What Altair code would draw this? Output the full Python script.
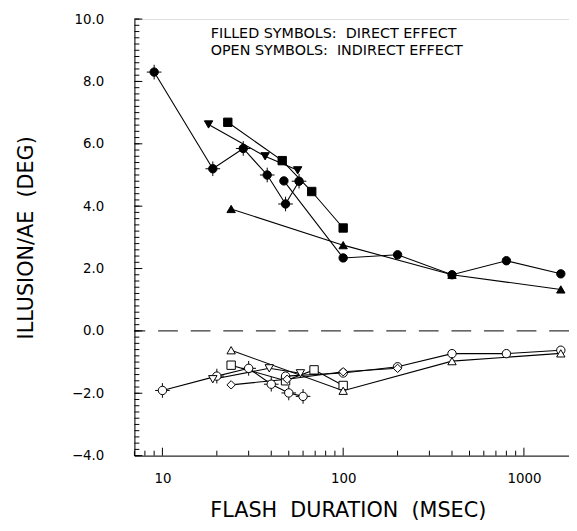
import altair as alt
import pandas as pd

# ---- data ----
filled_cross_x = [9, 19, 28, 38, 48, 57]
filled_cross_y = [8.3, 5.2, 5.85, 5.0, 4.07, 4.8]
filled_down_x = [18, 37, 56]
filled_down_y = [6.62, 5.6, 5.15]
filled_square_x = [23, 46, 67, 100]
filled_square_y = [6.69, 5.46, 4.47, 3.3]
filled_circle_x = [47, 100, 200, 400, 800, 1600]
filled_circle_y = [4.81, 2.34, 2.44, 1.8, 2.25, 1.83]
filled_up_x = [24, 100, 400, 1600]
filled_up_y = [3.91, 2.75, 1.8, 1.33]

open_cross_x = [10, 20, 30, 40, 50, 60]
open_cross_y = [-1.91, -1.45, -1.2, -1.71, -1.99, -2.1]
open_down_x = [19, 39, 58]
open_down_y = [-1.55, -1.2, -1.36]
open_square_x = [24, 48, 69, 100]
open_square_y = [-1.1, -1.6, -1.25, -1.75]
open_circle_x = [48, 100, 200, 400, 800, 1600]
open_circle_y = [-1.45, -1.35, -1.15, -0.73, -0.73, -0.62]
open_up_x = [24, 100, 400, 1600]
open_up_y = [-0.62, -1.92, -0.97, -0.72]
open_diamond_x = [24, 49, 100, 200]
open_diamond_y = [-1.73, -1.55, -1.31, -1.2]

x_major_ticks = [10, 100, 1000]
x_minor_ticks = [7, 8, 9, 20, 30, 40, 50, 60, 70, 80, 90,
                 200, 300, 400, 500, 600, 700, 800, 900]
y_label_values = [-4, -2, 0, 2, 4, 6, 8, 10]
y_minor_ticks = [round(-4 + 0.2 * i, 1) for i in range(71)]

NB = "\u00a0"
note_lines = [f"FILLED SYMBOLS:{NB}{NB}DIRECT EFFECT",
              f"OPEN SYMBOLS:{NB}{NB}INDIRECT EFFECT"]
x_title = f"FLASH{NB}{NB}DURATION{NB}{NB}(MSEC)"
y_title = f"ILLUSION/AE{NB}{NB}(DEG)"

series_defs = [
    ("f_cross", "circle", "filled", True, filled_cross_x, filled_cross_y),
    ("f_down", "triangle-down", "filled", False, filled_down_x, filled_down_y),
    ("f_square", "square", "filled", False, filled_square_x, filled_square_y),
    ("f_circle", "circle", "filled", False, filled_circle_x, filled_circle_y),
    ("f_up", "triangle-up", "filled", False, filled_up_x, filled_up_y),
    ("o_cross", "circle", "open", True, open_cross_x, open_cross_y),
    ("o_down", "triangle-down", "open", False, open_down_x, open_down_y),
    ("o_square", "square", "open", False, open_square_x, open_square_y),
    ("o_circle", "circle", "open", False, open_circle_x, open_circle_y),
    ("o_up", "triangle-up", "open", False, open_up_x, open_up_y),
    ("o_diamond", "diamond", "open", False, open_diamond_x, open_diamond_y),
]

rows = []
for name, shape, fill, cross, xs, ys in series_defs:
    for xv, yv in zip(xs, ys):
        rows.append({"series": name, "shape": shape, "fill": fill,
                     "cross": cross, "x": xv, "y": yv})
df = pd.DataFrame(rows)

FONT = "DejaVu Sans"
W, H = 440, 442

xscale = alt.Scale(type="log", domain=[7, 1776], nice=False)
yscale = alt.Scale(domain=[-4, 10], nice=False)

xaxis = alt.Axis(values=x_major_ticks, format="d", ticks=False, tickSize=0,
                 grid=False, domainColor="black", labelColor="black",
                 labelFont=FONT, labelFontSize=13.5, labelPadding=16,
                 title=x_title, titleFont=FONT,
                 titleFontSize=21, titleFontWeight="normal", titleColor="black",
                 titleX=W / 2 - 4, titleY=56, titleBaseline="middle",
                 titleAlign="center")
yaxis = alt.Axis(values=y_label_values, format=".1f", ticks=False, tickSize=0,
                 grid=False, domainColor="black", labelColor="black",
                 labelFont=FONT, labelFontSize=13.5, labelPadding=31,
                 title=y_title, titleFont=FONT, titleFontSize=21,
                 titleFontWeight="normal", titleColor="black",
                 titleX=-109, titleY=H / 2, titleAngle=270,
                 titleBaseline="middle", titleAlign="center")


def X(field):
    return alt.X(f"{field}:Q", scale=xscale, axis=xaxis)


def Y(field):
    return alt.Y(f"{field}:Q", scale=yscale, axis=yaxis)


lines = alt.Chart(df).mark_line(color="black", strokeWidth=1.1).encode(
    x=X("x"), y=Y("y"), detail="series:N"
)

zero = alt.Chart(pd.DataFrame({"y": [0]})).mark_rule(
    color="black", strokeWidth=1, strokeDash=[20, 13]
).encode(y=Y("y"))

ymin = alt.Chart(pd.DataFrame({"y": y_minor_ticks})).mark_rule(
    color="black", strokeWidth=1
).encode(y=Y("y"), x=alt.value(0), x2=alt.value(5))
ymaj = alt.Chart(pd.DataFrame({"y": y_label_values})).mark_rule(
    color="black", strokeWidth=1
).encode(y=Y("y"), x=alt.value(0), x2=alt.value(8))
xmin = alt.Chart(pd.DataFrame({"x": x_minor_ticks})).mark_rule(
    color="black", strokeWidth=1
).encode(x=X("x"), y=alt.value(H), y2=alt.value(H - 5))
xmaj = alt.Chart(pd.DataFrame({"x": x_major_ticks})).mark_rule(
    color="black", strokeWidth=1
).encode(x=X("x"), y=alt.value(H), y2=alt.value(H - 8))

crosses = alt.Chart(df[df["cross"]]).mark_point(
    shape="M-1,0L1,0M0,-1L0,1", filled=False, stroke="black", strokeWidth=1,
    size=220, opacity=1
).encode(x=X("x"), y=Y("y"))

points = alt.Chart(df).mark_point(
    filled=True, stroke="black", strokeWidth=1, size=72, opacity=1
).encode(
    x=X("x"), y=Y("y"),
    shape=alt.Shape("shape:N", scale=None, legend=None),
    fill=alt.Fill("fill:N", scale=alt.Scale(domain=["filled", "open"],
                                            range=["black", "white"]),
                  legend=None),
)

note = alt.Chart(pd.DataFrame({"x": [18.5, 18.5], "y": [9.52, 8.99],
                               "t": note_lines})).mark_text(
    align="left", baseline="middle", font=FONT, fontSize=14.5, color="black"
).encode(x=X("x"), y=Y("y"), text="t:N")

chart = alt.layer(lines, zero, ymin, ymaj, xmin, xmaj, crosses, points, note).properties(
    width=W, height=H,
    padding={"left": 128, "top": 8, "right": 0, "bottom": 65},
    autosize=alt.AutoSizeParams(type="none"),
).configure_view(stroke="black", strokeWidth=1).configure(background="white")

chart.save("out.html", embed_options={"renderer": "svg", "actions": False})
